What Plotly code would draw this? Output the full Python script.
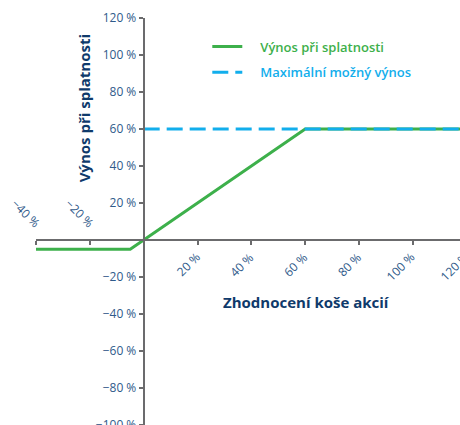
import plotly.graph_objects as go

# ---- data ----
x_range = [-40, 117.5]
y_range = [-108, 120]

payoff_x = [-40, -5, 60, 120]
payoff_y = [-5, -5, 60, 60]

cap_x = [0, 120]
cap_y = [60, 60]

x_ticks = [-40, -20, 20, 40, 60, 80, 100, 120]
y_ticks = [-100, -80, -60, -40, -20, 20, 40, 60, 80, 100, 120]

series_names = ["Výnos při splatnosti", "Maximální možný výnos"]
x_title = "Zhodnocení koše akcií"
y_title = "Výnos při splatnosti"

# ---- style ----
GREEN = "#3db04b"
BLUE = "#12aeec"
AXIS = "#6b6b6d"
TICK = "#2f5a8a"
TITLE = "#0f3a6b"
FONT = "Open Sans"

def fmt(v):
    s = f"{abs(v)} %"
    return ("\u2212" + s) if v < 0 else s

fig = go.Figure()
fig.add_trace(go.Scatter(
    x=payoff_x, y=payoff_y, mode="lines",
    line=dict(color=GREEN, width=3),
    name=f"<span style='color:{GREEN}'>\u2002\u2002{series_names[0]}</span>",
    legendgroup="a",
))
fig.add_trace(go.Scatter(
    x=cap_x, y=cap_y, mode="lines",
    line=dict(color=BLUE, width=3, dash="16px,7px"),
    name=f"<span style='color:{BLUE}'>\u2002\u2002{series_names[1]}</span>",
    legendgroup="b",
))

x_pos_frac = (0 - x_range[0]) / (x_range[1] - x_range[0])
y_pos_frac = (0 - y_range[0]) / (y_range[1] - y_range[0])

annotations = []
for t in x_ticks:
    inside = x_range[0] <= t <= x_range[1]
    xref = "x" if inside else "paper"
    xv = t if inside else (t - x_range[0]) / (x_range[1] - x_range[0])
    if t < 0:
        annotations.append(dict(
            x=xv, xref=xref, y=0, yref="y", text=fmt(t), showarrow=False,
            textangle=45, xanchor="right", yanchor="bottom", yshift=6, xshift=11,
            font=dict(family=FONT, size=12, color=TICK),
        ))
    else:
        annotations.append(dict(
            x=xv, xref=xref, y=0, yref="y", text=fmt(t), showarrow=False,
            textangle=-45, xanchor="right", yanchor="top", yshift=-6, xshift=9,
            font=dict(family=FONT, size=12, color=TICK),
        ))

annotations.append(dict(
    x=0.637, xref="paper", y=0.327, yref="paper", text=f"<b>{x_title}</b>",
    showarrow=False, xanchor="center", yanchor="middle",
    font=dict(family=FONT, size=15, color=TITLE),
))
annotations.append(dict(
    x=0.112, xref="paper", y=0.787, yref="paper", text=f"<b>{y_title}</b>",
    showarrow=False, xanchor="center", yanchor="middle", textangle=-90,
    font=dict(family=FONT, size=15, color=TITLE),
))

fig.update_layout(
    width=460, height=440,
    margin=dict(l=36, r=0, t=18, b=0),
    paper_bgcolor="white", plot_bgcolor="white",
    font=dict(family=FONT, size=12, color=TICK),
    showlegend=True,
    legend=dict(
        x=0.404, y=0.968, xanchor="left", yanchor="top",
        bgcolor="rgba(0,0,0,0)", tracegroupgap=6,
        font=dict(family=FONT, size=13, weight=600),
    ),
    xaxis=dict(
        range=x_range, anchor="free", position=y_pos_frac,
        showgrid=False, zeroline=False, showline=True,
        linecolor=AXIS, linewidth=2,
        tickmode="array", tickvals=x_ticks, ticks="outside",
        ticklen=4, tickwidth=1.5, tickcolor=AXIS, showticklabels=False,
    ),
    yaxis=dict(
        range=y_range, anchor="free", position=x_pos_frac,
        showgrid=False, zeroline=False, showline=True,
        linecolor=AXIS, linewidth=2,
        tickmode="array", tickvals=y_ticks, ticktext=[fmt(v) for v in y_ticks],
        ticks="outside", ticklen=4, tickwidth=1.5, tickcolor=AXIS,
        tickfont=dict(family=FONT, size=12, color=TICK),
    ),
    annotations=annotations,
)

fig.write_html(
    "out.html",
    config={"displayModeBar": False},
    post_script="document.body.style.margin='0';document.body.style.overflow='hidden';",
)
